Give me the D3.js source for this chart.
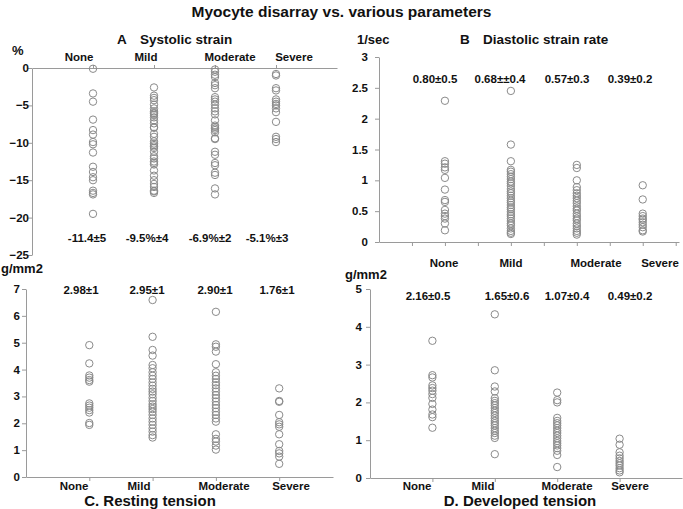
<!DOCTYPE html>
<html><head><meta charset="utf-8">
<script src="https://cdn.jsdelivr.net/npm/d3@7"></script>
<style>
html,body{margin:0;padding:0;background:#fff;}
svg text{font-family:"Liberation Sans",Arial,sans-serif;fill:#111;}
</style></head>
<body><svg id="c" width="683" height="509"></svg>
<script>
// ---------- data ----------
const categories = ["None", "Mild", "Moderate", "Severe"];

const systolicStrain = [
  [-0.1, -3.4, -4.5, -6.9, -8.3, -8.9, -9.9, -10.2, -11.3, -13.2, -13.9, -14.6, -15.0, -16.4, -16.7, -16.9, -19.5],
  [-2.6, -3.7, -4.0, -4.3, -4.9, -5.4, -5.8, -6.0, -6.1, -6.3, -6.6, -7.0, -7.4, -7.9, -8.0, -8.8, -9.2, -9.8, -10.1, -10.3, -10.5, -10.7, -11.2, -11.8, -12.1, -12.5, -12.7, -12.9, -13.7, -14.4, -15.0, -15.5, -15.9, -16.4, -16.5, -16.7],
  [-0.2, -0.5, -0.9, -1.2, -2.0, -2.3, -2.7, -3.9, -4.2, -4.5, -4.9, -5.4, -5.8, -6.2, -7.0, -7.7, -7.9, -8.1, -8.3, -8.6, -9.4, -9.5, -11.2, -11.6, -12.7, -13.0, -14.0, -14.3, -16.1, -16.9],
  [-0.8, -1.0, -2.7, -3.0, -4.2, -4.5, -4.8, -5.0, -5.4, -5.9, -7.2, -9.2, -9.5, -9.9]
];
const diastolicStrainRate = [
  [2.29, 1.31, 1.27, 1.21, 1.17, 1.04, 0.85, 0.68, 0.65, 0.52, 0.46, 0.42, 0.38, 0.30, 0.19],
  [2.45, 1.58, 1.31, 1.17, 1.14, 1.10, 1.06, 1.02, 0.98, 0.95, 0.91, 0.86, 0.82, 0.79, 0.75, 0.71, 0.67, 0.64, 0.60, 0.56, 0.53, 0.49, 0.45, 0.42, 0.38, 0.34, 0.30, 0.27, 0.22, 0.18, 0.15, 0.13],
  [1.25, 1.20, 1.00, 0.89, 0.84, 0.79, 0.75, 0.71, 0.67, 0.63, 0.58, 0.54, 0.51, 0.46, 0.42, 0.38, 0.35, 0.30, 0.26, 0.22, 0.18, 0.15, 0.12],
  [0.92, 0.69, 0.46, 0.42, 0.38, 0.36, 0.32, 0.28, 0.24, 0.19, 0.17]
];
const restingTension = [
  [4.91, 4.23, 3.78, 3.70, 3.61, 3.55, 2.74, 2.66, 2.58, 2.49, 2.40, 2.01, 1.94],
  [6.59, 5.22, 4.73, 4.52, 4.17, 4.05, 3.90, 3.77, 3.65, 3.52, 3.40, 3.28, 3.18, 3.08, 2.95, 2.83, 2.71, 2.62, 2.53, 2.43, 2.31, 2.18, 2.06, 1.94, 1.81, 1.69, 1.56, 1.47],
  [6.15, 4.94, 4.85, 4.67, 4.20, 3.90, 3.77, 3.65, 3.52, 3.42, 3.30, 3.18, 3.05, 2.93, 2.81, 2.68, 2.56, 2.43, 2.31, 2.18, 2.06, 1.59, 1.42, 1.32, 1.17, 1.02],
  [3.30, 2.83, 2.80, 2.31, 2.04, 1.96, 1.87, 1.59, 1.22, 0.97, 0.88, 0.76, 0.49]
];
const developedTension = [
  [3.63, 2.72, 2.66, 2.45, 2.38, 2.31, 2.22, 2.12, 1.96, 1.81, 1.68, 1.61, 1.33],
  [4.33, 2.85, 2.42, 2.29, 2.11, 2.04, 1.98, 1.92, 1.85, 1.78, 1.72, 1.65, 1.58, 1.51, 1.45, 1.39, 1.32, 1.25, 1.19, 1.12, 1.06, 0.63],
  [2.26, 2.06, 2.00, 1.59, 1.51, 1.45, 1.39, 1.32, 1.25, 1.19, 1.12, 1.05, 0.98, 0.92, 0.86, 0.79, 0.72, 0.61, 0.29],
  [1.04, 0.88, 0.68, 0.59, 0.52, 0.45, 0.39, 0.33, 0.26, 0.20, 0.15]
];

const systolicStats = ["-11.4±5", "-9.5%±4", "-6.9%±2", "-5.1%±3"];
const diastolicStats = ["0.80±0.5", "0.68±±0.4", "0.57±0.3", "0.39±0.2"];
const restingStats = ["2.98±1", "2.95±1", "2.90±1", "1.76±1"];
const developedStats = ["2.16±0.5", "1.65±0.6", "1.07±0.4", "0.49±0.2"];

const systolicTicks = [0, -5, -10, -15, -20, -25];
const diastolicTicks = [0, 0.5, 1, 1.5, 2, 2.5, 3];
const restingTicks = [0, 1, 2, 3, 4, 5, 6, 7];
const developedTicks = [0, 1, 2, 3, 4, 5];

const mainTitle = "Myocyte disarray vs. various parameters";

// ---------- layout ----------
const panels = [
  { values: systolicStrain, stats: systolicStats, ticks: systolicTicks, yDomain: [-25, 0], yRange: [255, 68],
    xDomain: [0, 5], xRange: [32, 337], axisTop: true, xTicks: [1, 2, 3, 4],
    unit: "%", unitX: 12, unitY: 55, tickLabelX: 29,
    letter: "A", letterX: 117, title: "Systolic strain", titleX: 140, titleY: 44,
    catX: [79, 146, 230, 294], catY: 61, statX: [87, 147, 210, 267], statY: 242 },
  { values: diastolicStrainRate, stats: diastolicStats, ticks: diastolicTicks, yDomain: [0, 3], yRange: [242, 57],
    xDomain: [0, 4.55], xRange: [379, 679], axisTop: false, xTicks: [0.5, 1, 1.5, 2, 2.5, 3, 3.5, 4, 4.5],
    unit: "1/sec", unitX: 357, unitY: 44, tickLabelX: 368,
    letter: "B", letterX: 460, title: "Diastolic strain rate", titleX: 483, titleY: 44,
    catX: [444, 511, 596, 660], catY: 267, statX: [435, 500, 567, 630], statY: 83 },
  { values: restingTension, stats: restingStats, ticks: restingTicks, yDomain: [0, 7], yRange: [477, 289],
    xDomain: [0, 4.85], xRange: [26, 333], axisTop: false, xTicks: [1, 2, 3, 4],
    unit: "g/mm2", unitX: 1, unitY: 273, tickLabelX: 20,
    bottomTitle: "C. Resting tension", bottomTitleX: 150, bottomTitleY: 506,
    catX: [74, 139, 224, 291], catY: 490, statX: [81, 147, 215, 277], statY: 294 },
  { values: developedTension, stats: developedStats, ticks: developedTicks, yDomain: [0, 5], yRange: [478, 289],
    xDomain: [0, 5], xRange: [370, 682], axisTop: false, xTicks: [1, 2, 3, 4],
    unit: "g/mm2", unitX: 345, unitY: 279, tickLabelX: 362,
    bottomTitle: "D. Developed tension", bottomTitleX: 520, bottomTitleY: 506,
    catX: [417, 483, 567, 630], catY: 490, statX: [428, 507, 567, 630], statY: 300 }
];

const svg = d3.select("#c");
const axisColor = "#9a9a9a";
const pointColor = "#8a8a8a";

svg.append("text").attr("x", 341.5).attr("y", 17).attr("text-anchor", "middle")
  .attr("font-size", 15.5).attr("font-weight", "bold").text(mainTitle);

panels.forEach(p => {
  const y = d3.scaleLinear().domain(p.yDomain).range(p.yRange);
  const x = d3.scaleLinear().domain(p.xDomain).range(p.xRange);
  const g = svg.append("g");

  // y axis
  const yAx = g.append("g").attr("transform", `translate(${p.xRange[0]},0)`)
    .call(d3.axisLeft(y).tickValues(p.ticks).tickSize(4).tickSizeOuter(0).tickFormat(""));
  yAx.selectAll("path,line").attr("stroke", axisColor);
  g.selectAll(".ytl").data(p.ticks).join("text")
    .attr("x", p.tickLabelX).attr("y", d => y(d) + 4)
    .attr("text-anchor", "end").attr("font-size", 11.5).attr("font-weight", "bold")
    .text(d => d3.format("")(d));

  // x axis (at value 0)
  const xAxisY = y(0);
  const xAxFn = p.axisTop ? d3.axisTop(x) : d3.axisBottom(x);
  const xAx = g.append("g").attr("transform", `translate(0,${xAxisY})`)
    .call(xAxFn.tickValues(p.xTicks).tickSize(p.axisTop ? 3 : 4).tickSizeOuter(0).tickFormat(""));
  xAx.selectAll("path,line").attr("stroke", axisColor);

  // points
  p.values.forEach((vals, i) => {
    g.selectAll(null).data(vals).join("circle")
      .attr("cx", x(i + 1)).attr("cy", d => y(d)).attr("r", 3.7)
      .attr("fill", "none").attr("stroke", pointColor).attr("stroke-width", 1);
  });

  // category labels
  g.selectAll(null).data(categories).join("text")
    .attr("x", (d, i) => p.catX[i]).attr("y", p.catY).attr("text-anchor", "middle")
    .attr("font-size", 11.5).attr("font-weight", "bold").text(d => d);

  // stats
  g.selectAll(null).data(p.stats).join("text")
    .attr("x", (d, i) => p.statX[i]).attr("y", p.statY).attr("text-anchor", "middle")
    .attr("font-size", 11.5).attr("font-weight", "bold").text(d => d);

  // unit
  g.append("text").attr("x", p.unitX).attr("y", p.unitY)
    .attr("font-size", 13).attr("font-weight", "bold").text(p.unit);

  if (p.letter) {
    g.append("text").attr("x", p.letterX).attr("y", p.titleY)
      .attr("font-size", 13.5).attr("font-weight", "bold").text(p.letter);
    g.append("text").attr("x", p.titleX).attr("y", p.titleY)
      .attr("font-size", 13.5).attr("font-weight", "bold").text(p.title);
  }
  if (p.bottomTitle) {
    g.append("text").attr("x", p.bottomTitleX).attr("y", p.bottomTitleY).attr("text-anchor", "middle")
      .attr("font-size", 15).attr("font-weight", "bold").text(p.bottomTitle);
  }
});
</script></body></html>
